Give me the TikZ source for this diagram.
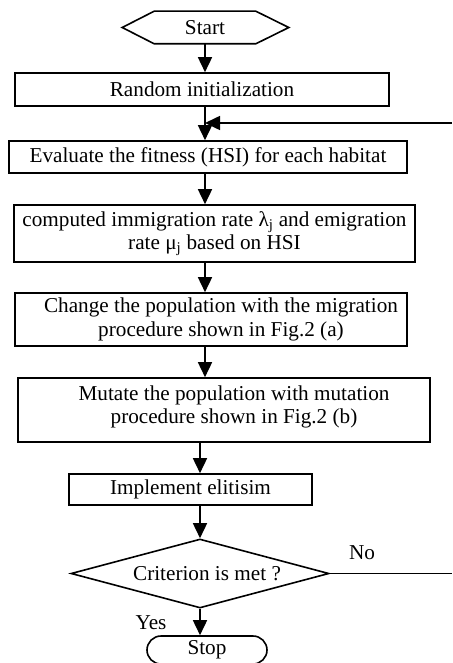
\documentclass[tikz,border=0pt]{standalone}
\usepackage{fontspec}
\setmainfont{Liberation Serif}
\usetikzlibrary{arrows.meta,shapes.geometric}
\begin{document}
\begin{tikzpicture}[x=1pt,y=-1pt,
  font=\fontsize{21.2}{23.5}\selectfont,
  line width=1.6pt,
  boxnode/.style={draw, rectangle, inner sep=0pt},
  txt/.style={align=center, inner sep=0pt},
  arr/.style={-{Triangle[length=15pt,width=14pt]}},
]
\useasboundingbox (0,0) rectangle (452,663);

% Start terminal (hexagon)
\node[txt, minimum width=100pt, minimum height=31pt] (start) at (205,27.5) {Start};
\draw (start.north west) -- (start.north east) -- ([xshift=33pt]start.east)
  -- (start.south east) -- (start.south west) -- ([xshift=-32pt]start.west) -- cycle;

% Process boxes
\node[boxnode, minimum width=374pt, minimum height=33pt] (rand) at (202,89.5) {Random initialization};
\node[boxnode, minimum width=398pt, minimum height=32pt] (eval) at (208,157) {Evaluate the fitness (HSI) for each habitat};
\node[boxnode, minimum width=401pt, minimum height=57pt, align=center] (comp) at (214.5,233.5)
  {computed immigration rate λ\textsubscript{j} and emigration\\rate μ\textsubscript{j} based on HSI};
\node[boxnode, minimum width=392pt, minimum height=53pt] (chg) at (211,319.5) {};
\node[txt] (chgtxt) at ([xshift=10pt]chg.center) {Change the population with the migration\\procedure shown in Fig.2 (a)};
\node[boxnode, minimum width=412pt, minimum height=64pt] (mut) at (224,410) {};
\node[txt] (muttxt) at ([xshift=10pt,yshift=3pt]mut.center) {Mutate the population with mutation\\procedure shown in Fig.2 (b)};
\node[boxnode, minimum width=243pt, minimum height=31pt] (impl) at (190.5,489.5) {Implement elitisim};

% Decision
\node[draw, diamond, minimum width=258pt, minimum height=69pt, inner sep=0pt] (dec) at (200,573.5) {};
\node[txt] (crit) at ([xshift=7pt]dec.center) {Criterion is met ?};

% Stop terminal
\node[draw, rounded corners=14pt, minimum width=120pt, minimum height=28pt, inner sep=0pt] (stop) at (207,650) {Stop};

% Labels
\node[txt] (no) at (362,553) {No};
\node[txt] (yes) at (151,623) {Yes};

% Main flow
\draw[arr] (start.south) -- (start.south |- rand.north);
\draw[arr] (rand.south -| start.south) -- (eval.north -| start.south);
\draw[arr] (eval.south -| start.south) -- (comp.north -| start.south);
\draw[arr] (comp.south -| start.south) -- (chg.north -| start.south);
\draw[arr] (chg.south -| start.south) -- (mut.north -| start.south);
\draw[arr] (mut.south -| dec.north) -- (impl.north -| dec.north);
\draw[arr] (impl.south -| dec.north) -- (dec.north);
\draw[arr] (dec.south) -- (dec.south |- stop.north);

% Loop back (No branch)
\coordinate (noR) at (452,573.5);
\draw (dec.east) -- (noR);
\coordinate (fbR) at (452,123);
\draw[arr] (fbR) -- (fbR -| start.south);
\end{tikzpicture}
\end{document}
